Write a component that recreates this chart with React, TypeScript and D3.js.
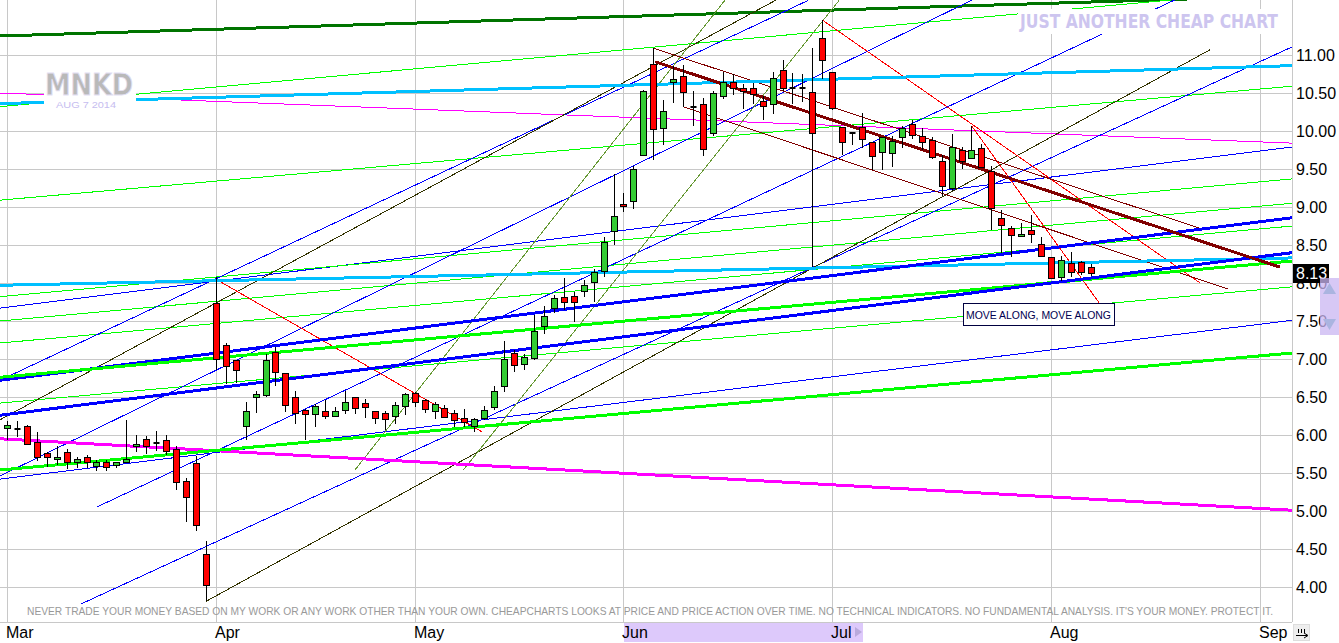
import { useEffect, useRef } from "react";
import * as d3 from "d3";

// daily candles, Mar 3 2014 .. Aug 7 2014 (Apr 1 halted, no bar)
const opens = [
  6.09, 6.08, 6.12, 5.91, 5.76, 5.68, 5.77, 5.64, 5.71, 5.59, 5.64, 5.6, 5.65, 5.85, 5.95, 5.9, 5.94, 5.82, 5.39, 5.63, 4.44,
  7.74, 7.18, 6.99, 6.12, 6.5, 6.53, 7.09, 6.82, 6.5, 6.33, 6.28, 6.32, 6.25, 6.33, 6.5, 6.42, 6.32, 6.29, 6.25, 6.38,
  6.55, 6.46, 6.31, 6.36, 6.29, 6.22, 6.12, 6.23, 6.37, 6.64, 7.08, 6.94, 7.01, 7.44, 7.67, 7.81, 7.83, 7.89, 8.01, 8.16, 8.68,
  9.04, 9.08, 9.68, 10.88, 10.04, 10.64, 10.72, 10.32, 10.36, 9.98, 10.46, 10.65, 10.57, 10.56, 10.39, 10.36, 10.8, 10.57, 10.56, 10.51, 11.23,
  10.77, 10.05, 9.98, 10.05, 9.86, 9.72, 9.71, 9.92, 10.09, 9.93, 9.88, 9.61, 9.25, 9.75, 9.64, 9.77, 9.48, 8.85, 8.73, 8.62, 8.7, 8.51,
  8.34, 8.08, 8.26, 8.27, 8.21,
];
const highs = [
  6.18, 6.18, 6.13, 6.04, 5.77, 5.85, 5.82, 5.71, 5.74, 5.67, 5.67, 5.65, 6.2, 6.0, 5.99, 6.05, 6.0, 5.85, 5.43, 5.72, 4.61,
  8.08, 7.21, 6.99, 6.44, 6.58, 7.06, 7.16, 6.82, 6.58, 6.34, 6.41, 6.46, 6.37, 6.58, 6.5, 6.47, 6.32, 6.31, 6.43, 6.55,
  6.56, 6.48, 6.44, 6.39, 6.33, 6.34, 6.23, 6.38, 6.64, 7.24, 7.12, 7.07, 7.58, 7.7, 7.84, 8.06, 7.88, 8.04, 8.18, 8.61, 9.44,
  9.19, 9.54, 10.54, 11.09, 10.41, 10.86, 10.87, 10.53, 10.43, 10.52, 10.78, 10.75, 10.62, 10.63, 10.46, 10.77, 10.93, 10.76, 10.75, 11.09, 11.46,
  10.78, 10.05, 9.99, 10.24, 9.86, 9.92, 9.93, 10.07, 10.15, 10.04, 9.92, 9.69, 9.96, 9.79, 10.07, 9.83, 9.54, 8.96, 8.75, 8.79, 8.9, 8.61,
  8.34, 8.36, 8.41, 8.29, 8.25,
];
const lows = [
  5.93, 5.98, 5.87, 5.66, 5.58, 5.61, 5.55, 5.57, 5.56, 5.52, 5.52, 5.57, 5.63, 5.77, 5.75, 5.79, 5.74, 5.28, 4.86, 4.74, 3.81,
  6.85, 6.67, 6.68, 5.93, 6.29, 6.5, 6.64, 6.3, 6.14, 5.93, 6.11, 6.21, 6.24, 6.28, 6.28, 6.22, 6.14, 6.07, 6.15, 6.26,
  6.37, 6.29, 6.21, 6.22, 6.11, 6.11, 6.04, 6.2, 6.33, 6.57, 6.83, 6.86, 6.99, 7.33, 7.6, 7.64, 7.49, 7.82, 7.75, 8.08, 8.5,
  8.93, 8.98, 9.67, 9.62, 9.82, 10.37, 10.31, 10.07, 9.67, 9.93, 10.42, 10.48, 10.29, 10.36, 10.14, 10.22, 10.53, 10.35, 10.38, 8.21, 10.68,
  10.28, 9.69, 9.82, 9.78, 9.49, 9.49, 9.53, 9.78, 9.89, 9.75, 9.63, 9.14, 9.21, 9.5, 9.63, 9.52, 8.7, 8.4, 8.34, 8.6, 8.53, 8.34,
  8.07, 8.02, 8.08, 8.11, 8.09,
];
const closes = [
  6.13, 6.08, 5.88, 5.71, 5.71, 5.71, 5.64, 5.68, 5.65, 5.64, 5.58, 5.64, 5.68, 5.88, 5.86, 5.9, 5.79, 5.38, 5.19, 4.82, 4.02,
  7.0, 6.91, 6.86, 6.32, 6.54, 6.99, 6.83, 6.4, 6.29, 6.27, 6.38, 6.25, 6.32, 6.44, 6.35, 6.37, 6.22, 6.21, 6.4, 6.54,
  6.44, 6.34, 6.41, 6.24, 6.2, 6.17, 6.21, 6.33, 6.58, 7.0, 6.92, 7.02, 7.37, 7.57, 7.8, 7.75, 7.75, 7.98, 8.14, 8.54, 8.88,
  9.01, 9.5, 10.53, 10.02, 10.26, 10.68, 10.51, 10.32, 9.76, 10.5, 10.64, 10.57, 10.53, 10.49, 10.33, 10.7, 10.57, 10.57, 10.56, 9.98, 10.94,
  10.3, 9.86, 9.98, 9.89, 9.67, 9.92, 9.87, 10.04, 9.95, 9.85, 9.66, 9.27, 9.79, 9.61, 9.75, 9.53, 8.99, 8.76, 8.63, 8.64, 8.64, 8.36,
  8.07, 8.3, 8.14, 8.14, 8.13,
];

const monthLabels = ["Mar", "Apr", "May", "Jun", "Jul", "Aug", "Sep"];
const monthStarts = [0, 21, 41, 62, 83, 105, 126];
const priceTicks = [4, 4.5, 5, 5.5, 6, 6.5, 7, 7.5, 8, 8.5, 9, 9.5, 10, 10.5, 11];
const lastPrice = 8.13;

// hand-drawn trend lines, anchored in (bar index, price)
const trendLines = [
  { kind: "darkGreen", from: [-0.7, 11.25], to: [129.3, 11.78] },
  { kind: "lime", from: [-0.7, 10.32], to: [129.3, 11.87] },
  { kind: "lime", from: [-0.7, 9.09], to: [129.3, 10.59] },
  { kind: "magenta", from: [-0.7, 10.5], to: [129.3, 9.84] },
  { kind: "blue", from: [-0.7, 7.67], to: [129.3, 9.79] },
  { kind: "lime", from: [-0.7, 7.82], to: [129.3, 9.37] },
  { kind: "lime", from: [-0.7, 7.5], to: [129.3, 9.05] },
  { kind: "lime", from: [-0.7, 7.21], to: [129.3, 8.75] },
  { kind: "lime", from: [-0.7, 6.42], to: [129.3, 7.95] },
  { kind: "blue", from: [-0.7, 5.42], to: [129.3, 7.51] },
  { kind: "blue", from: [7.5, 3.78], to: [129.3, 11.11] },
  { kind: "blue", from: [-0.7, 6.72], to: [80.6, 11.72] },
  { kind: "blue", from: [-0.7, 5.46], to: [97, 11.72] },
  { kind: "blue", from: [9, 5.05], to: [119, 11.82] },
  { kind: "black", from: [-0.7, 6.2], to: [77.3, 11.72] },
  { kind: "black", from: [20, 3.81], to: [121, 11.07] },
  { kind: "olive", from: [35, 5.54], to: [72.2, 11.72] },
  { kind: "olive", from: [45.9, 5.54], to: [83.7, 11.72] },
  { kind: "red", from: [21, 8.05], to: [47.8, 6.04] },
  { kind: "red", from: [82, 11.46], to: [120, 8.0] },
  { kind: "red", from: [97, 10.07], to: [110, 7.71] },
  { kind: "maroon", from: [65, 11.09], to: [120, 8.72] },
  { kind: "maroon", from: [68, 10.32], to: [122.8, 7.92] },
  { kind: "cyanThick", from: [-0.7, 10.36], to: [129.3, 10.86] },
  { kind: "cyanThick", from: [-0.7, 7.97], to: [129.3, 8.33] },
  { kind: "blueThick", from: [-0.7, 6.72], to: [129.3, 8.86] },
  { kind: "limeThick", from: [-0.7, 6.76], to: [129.3, 8.29] },
  { kind: "blueThick", from: [-0.7, 6.26], to: [129.3, 8.4] },
  { kind: "magentaThick", from: [-0.7, 5.95], to: [129.3, 5.01] },
  { kind: "limeThick", from: [-0.7, 5.54], to: [129.3, 7.08] },
  { kind: "maroonThick", from: [65.2, 10.91], to: [128, 8.21] },
];

const lineStyles: Record<string, { color: string; width: number }> = {
  darkGreen: { color: "#007400", width: 3 },
  lime: { color: "#00ff00", width: 1 },
  limeThick: { color: "#00ff00", width: 3 },
  magenta: { color: "#ff00ff", width: 1 },
  magentaThick: { color: "#ff00ff", width: 3 },
  blue: { color: "#0000ff", width: 1 },
  blueThick: { color: "#0000ff", width: 3 },
  cyanThick: { color: "#00c0ff", width: 3 },
  black: { color: "#333300", width: 1 },
  olive: { color: "#669933", width: 1 },
  red: { color: "#ff0000", width: 1 },
  maroon: { color: "#800000", width: 1 },
  maroonThick: { color: "#800000", width: 3 },
};

const disclaimer =
  "NEVER TRADE YOUR MONEY BASED ON MY WORK OR ANY WORK OTHER THAN YOUR OWN. CHEAPCHARTS LOOKS AT PRICE AND PRICE ACTION OVER TIME. NO TECHNICAL INDICATORS. NO FUNDAMENTAL ANALYSIS. IT'S YOUR MONEY. PROTECT IT.";

export default function App() {
  const ref = useRef<SVGSVGElement>(null);

  useEffect(() => {
    if (!ref.current) return;
    const svg = d3.select(ref.current);
    svg.selectAll("*").remove();

    const W = 1339;
    const H = 643;
    const plotR = 1292;
    const plotB = 622;
    const font = "'Liberation Sans', Arial, sans-serif";
    const condensed = "'DejaVu Sans Condensed', 'DejaVu Sans', sans-serif";

    const x = d3.scaleLinear().domain([0, 105]).range([7, 1051]);
    const y = d3.scaleLinear().domain([4, 11]).range([587, 55]);
    const px = (v: number) => Math.round(v) + 0.5;
    const isDoji = (i: number) => Math.abs(opens[i] - closes[i]) < 0.005;

    svg.append("rect").attr("width", W).attr("height", H).attr("fill", "#fff");
    svg
      .append("defs")
      .append("clipPath")
      .attr("id", "plot")
      .append("rect")
      .attr("width", plotR)
      .attr("height", plotB);

    // grid
    const grid = svg.append("g").attr("stroke", "#c8c8c8").attr("stroke-width", 1);
    grid
      .selectAll("line.h")
      .data(priceTicks)
      .join("line")
      .attr("class", "h")
      .attr("x1", 0)
      .attr("x2", plotR)
      .attr("y1", (d) => px(y(d)))
      .attr("y2", (d) => px(y(d)));
    grid
      .selectAll("line.v")
      .data(monthStarts)
      .join("line")
      .attr("class", "v")
      .attr("x1", (d) => px(x(d)))
      .attr("x2", (d) => px(x(d)))
      .attr("y1", 0)
      .attr("y2", plotB);
    grid.append("line").attr("x1", 0).attr("x2", plotR).attr("y1", plotB + 0.5).attr("y2", plotB + 0.5);
    grid.append("line").attr("x1", plotR + 0.5).attr("x2", plotR + 0.5).attr("y1", 0).attr("y2", plotB);

    // trend lines
    svg
      .append("g")
      .attr("clip-path", "url(#plot)")
      .selectAll("line")
      .data(trendLines)
      .join("line")
      .attr("x1", (d) => x(d.from[0]))
      .attr("y1", (d) => y(d.from[1]))
      .attr("x2", (d) => x(d.to[0]))
      .attr("y2", (d) => y(d.to[1]))
      .attr("stroke", (d) => lineStyles[d.kind].color)
      .attr("stroke-width", (d) => lineStyles[d.kind].width)
      .attr("shape-rendering", "crispEdges");

    // logo, on its own white patch
    svg.append("rect").attr("x", 44).attr("y", 66).attr("width", 92).attr("height", 45).attr("fill", "#fff");
    svg
      .append("text")
      .attr("x", 45)
      .attr("y", 95)
      .attr("textLength", 88)
      .attr("lengthAdjust", "spacingAndGlyphs")
      .style("font-family", condensed)
      .style("font-size", "30px")
      .style("font-weight", "bold")
      .attr("fill", "#b9b9b9")
      .attr("stroke", "#e4e0f4")
      .attr("stroke-width", 0.8)
      .text("MNKD");
    svg
      .append("text")
      .attr("x", 56)
      .attr("y", 108)
      .attr("textLength", 60)
      .attr("lengthAdjust", "spacingAndGlyphs")
      .style("font-family", font)
      .style("font-size", "9px")
      .attr("fill", "#c6bdef")
      .text("AUG 7 2014");

    // title
    svg.append("rect").attr("x", 1018).attr("y", 9).attr("width", 264).attr("height", 25).attr("fill", "#fff");
    svg
      .append("text")
      .attr("x", 1020)
      .attr("y", 28)
      .attr("textLength", 258)
      .attr("lengthAdjust", "spacingAndGlyphs")
      .style("font-family", condensed)
      .style("font-size", "20px")
      .style("font-weight", "bold")
      .attr("fill", "#cdc5ef")
      .text("JUST ANOTHER CHEAP CHART");

    // candles
    const bars = d3.range(opens.length);
    const cg = svg.append("g");
    cg.selectAll("line")
      .data(bars)
      .join("line")
      .attr("x1", (i) => px(x(i)))
      .attr("x2", (i) => px(x(i)))
      .attr("y1", (i) => Math.round(y(highs[i])))
      .attr("y2", (i) => Math.round(y(lows[i])))
      .attr("stroke", "#000")
      .attr("stroke-width", 1);
    cg.selectAll("rect")
      .data(bars)
      .join("rect")
      .attr("x", (i) => Math.round(x(i)) - 2.5)
      .attr("y", (i) => {
        const top = Math.round(y(Math.max(opens[i], closes[i])));
        return isDoji(i) ? top - 1 : top + 0.5;
      })
      .attr("width", 6)
      .attr("height", (i) => {
        if (isDoji(i)) return 2;
        const top = Math.round(y(Math.max(opens[i], closes[i])));
        const bot = Math.round(y(Math.min(opens[i], closes[i])));
        return Math.max(1, bot - top);
      })
      .attr("fill", (i) => (isDoji(i) ? "#000" : closes[i] > opens[i] ? "#33cc33" : "#ff0000"))
      .attr("stroke", "#000")
      .attr("stroke-width", (i) => (isDoji(i) ? 0 : 1));

    // note box
    svg
      .append("rect")
      .attr("x", 963.5)
      .attr("y", 303.5)
      .attr("width", 151)
      .attr("height", 22)
      .attr("fill", "#fff")
      .attr("stroke", "#000040");
    svg
      .append("text")
      .attr("x", 966)
      .attr("y", 319)
      .attr("textLength", 145)
      .attr("lengthAdjust", "spacingAndGlyphs")
      .style("font-family", font)
      .style("font-size", "11px")
      .attr("fill", "#000050")
      .text("MOVE ALONG, MOVE ALONG");

    // disclaimer
    svg
      .append("text")
      .attr("x", 27)
      .attr("y", 615)
      .attr("textLength", 1246)
      .attr("lengthAdjust", "spacingAndGlyphs")
      .style("font-family", font)
      .style("font-size", "10.5px")
      .attr("fill", "#999999")
      .text(disclaimer);

    // right price axis
    svg
      .append("g")
      .selectAll("text")
      .data(priceTicks)
      .join("text")
      .attr("x", 1296)
      .attr("y", (d) => y(d) + 6)
      .style("font-family", font)
      .style("font-size", "16px")
      .attr("fill", "#000")
      .text((d) => d3.format(".2f")(d));

    svg
      .append("rect")
      .attr("x", 1293)
      .attr("y", Math.round(y(lastPrice)) - 9)
      .attr("width", 36)
      .attr("height", 19)
      .attr("fill", "#000");
    svg
      .append("text")
      .attr("x", 1296)
      .attr("y", y(lastPrice) + 6)
      .style("font-family", font)
      .style("font-size", "16px")
      .attr("fill", "#fff")
      .text(d3.format(".2f")(lastPrice));

    // scroll handle
    svg
      .append("rect")
      .attr("x", 1320)
      .attr("y", 278)
      .attr("width", 19)
      .attr("height", 57)
      .attr("fill", "#c9b6f2")
      .attr("opacity", 0.75);
    svg.append("path").attr("d", "M1323,294 L1336,294 L1329.5,283 Z").attr("fill", "#aab4e0");
    svg.append("path").attr("d", "M1323,319 L1336,319 L1329.5,330 Z").attr("fill", "#aab4e0");

    // month axis
    svg
      .append("rect")
      .attr("x", 624)
      .attr("y", 623)
      .attr("width", 239)
      .attr("height", 19)
      .attr("fill", "#ddc9fb");
    svg.append("path").attr("d", "M855,627 L862,632 L855,637 Z").attr("fill", "#b9a9dc");
    svg
      .append("g")
      .selectAll("text")
      .data(monthLabels)
      .join("text")
      .attr("x", (_, k) => Math.round(x(monthStarts[k])) - 1)
      .attr("y", 638)
      .style("font-family", font)
      .style("font-size", "16px")
      .attr("fill", "#000")
      .text((d) => d);

    // little icon next to Sep
    const ic = svg.append("g").attr("stroke", "#000").attr("stroke-width", 1);
    ic.append("rect")
      .attr("x", 1293.5)
      .attr("y", 624.5)
      .attr("width", 16)
      .attr("height", 16)
      .attr("fill", "#eeeeee")
      .attr("stroke", "#dddddd");
    [1298, 1301, 1304].forEach((v) =>
      ic.append("line").attr("x1", v + 0.5).attr("x2", v + 0.5).attr("y1", 629).attr("y2", 633)
    );
    ic.append("line").attr("x1", 1296).attr("x2", 1307).attr("y1", 635.5).attr("y2", 635.5);
    ic.append("path").attr("d", "M1304,633 L1308,635.5 L1304,638").attr("fill", "none");
  }, []);

  return (
    <svg
      ref={ref}
      width={1339}
      height={643}
      style={{ position: "absolute", left: 0, top: 0, display: "block" }}
    />
  );
}
